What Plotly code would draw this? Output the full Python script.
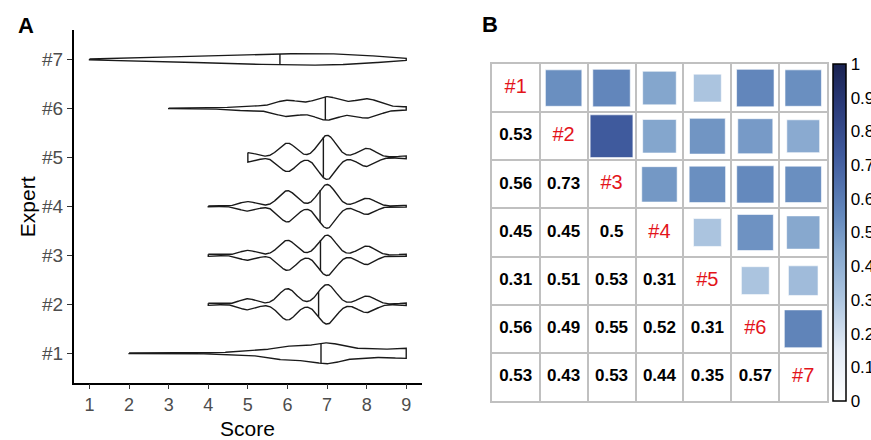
import numpy as np
import plotly.graph_objects as go

# ---------------- data ----------------
experts = ["#1", "#2", "#3", "#4", "#5", "#6", "#7"]
score_levels = [1, 2, 3, 4, 5, 6, 7, 8, 9]
# number of items given each score (1..9) by each expert
counts_e1 = [0, 2, 3, 4, 17, 58, 88, 35, 43]
counts_e2 = [0, 0, 0, 5, 27, 76, 96, 40, 6]
counts_e3 = [0, 0, 0, 5, 24, 73, 98, 45, 5]
counts_e4 = [0, 0, 0, 2, 23, 76, 106, 39, 4]
counts_e5 = [0, 0, 0, 0, 23, 69, 107, 44, 7]
counts_e6 = [0, 0, 2, 5, 18, 59, 85, 70, 11]
counts_e7 = [3, 12, 21, 31, 41, 49, 52, 36, 5]
counts_all = [counts_e1, counts_e2, counts_e3, counts_e4, counts_e5, counts_e6, counts_e7]

x_ticks = [1, 2, 3, 4, 5, 6, 7, 8, 9]

# lower-triangle correlations (row i, columns 1..i-1)
corr_r2 = [0.53]
corr_r3 = [0.56, 0.73]
corr_r4 = [0.45, 0.45, 0.50]
corr_r5 = [0.31, 0.51, 0.53, 0.31]
corr_r6 = [0.56, 0.49, 0.55, 0.52, 0.31]
corr_r7 = [0.53, 0.43, 0.53, 0.44, 0.35, 0.57]
corr_rows = [[], corr_r2, corr_r3, corr_r4, corr_r5, corr_r6, corr_r7]
cbar_ticks = [0, 0.1, 0.2, 0.3, 0.4, 0.5, 0.6, 0.7, 0.8, 0.9, 1]

# ---------------- layout geometry ----------------
W, H = 871, 440
FONT = "Arial, Liberation Sans, sans-serif"
ax_dom_x = [74 / W, 424 / W]
ax_dom_y = [(H - 382.7) / H, (H - 30) / H]
bx_dom_x = [494 / W, 831 / W]
bx_dom_y = [(H - 401) / H, (H - 64) / H]

fig = go.Figure()

# ---------------- panel A: violins ----------------
def nrd0(x):
    sd = np.std(x, ddof=1)
    q75, q25 = np.percentile(x, [75, 25])
    lo = min(sd, (q75 - q25) / 1.34)
    return 0.9 * lo * len(x) ** -0.2

dens_list = []
for cnt in counts_all:
    sample = np.repeat(score_levels, cnt).astype(float)
    bw = nrd0(sample)
    grid = np.linspace(sample.min(), sample.max(), 512)
    d = np.exp(-0.5 * ((grid[:, None] - sample[None, :]) / bw) ** 2).sum(1)
    d /= len(sample) * bw * np.sqrt(2 * np.pi)
    dens_list.append((grid, d))
gmax = max(d.max() for _, d in dens_list)

for k, (grid, d) in enumerate(dens_list):
    yc = k + 1
    hw = 0.45 * d / gmax
    xs = np.concatenate([grid, grid[::-1], grid[:1]])
    ys = np.concatenate([yc + hw, (yc - hw)[::-1], [yc + hw[0]]])
    fig.add_trace(go.Scatter(x=xs, y=ys, mode="lines", fill="toself",
                             fillcolor="white", line=dict(color="#1a1a1a", width=1.4),
                             hoverinfo="skip", showlegend=False, xaxis="x", yaxis="y"))
    cdf = np.cumsum(d) / d.sum()
    med = np.interp(0.5, cdf, grid)
    hm = np.interp(med, grid, hw)
    fig.add_trace(go.Scatter(x=[med, med], y=[yc - hm, yc + hm], mode="lines",
                             line=dict(color="#1a1a1a", width=1.4),
                             hoverinfo="skip", showlegend=False, xaxis="x", yaxis="y"))

# ---------------- panel B: correlation matrix ----------------
n = len(experts)
cell_px = (bx_dom_x[1] - bx_dom_x[0]) * W / n
sq_x, sq_y, sq_v = [], [], []
num_x, num_y, num_t = [], [], []
for i in range(n):
    for j, v in enumerate(corr_rows[i]):
        num_x.append(j + 1); num_y.append(i + 1); num_t.append("<b>%s</b>" % format(v, "g"))
        sq_x.append(i + 1); sq_y.append(j + 1); sq_v.append(v)

blues = [[0.0, "#FFFFFF"], [0.15, "#E3EBF5"], [0.31, "#ABC4DF"], [0.45, "#84A6CD"],
         [0.55, "#6489BD"], [0.73, "#3F5A9D"], [0.88, "#2A3A78"], [1.0, "#1A2351"]]

fig.add_trace(go.Scatter(
    x=sq_x, y=sq_y, mode="markers", xaxis="x2", yaxis="y2", showlegend=False,
    hoverinfo="skip",
    marker=dict(symbol="square", size=[1.04 * cell_px * np.sqrt(v) for v in sq_v],
                opacity=1, color=sq_v, cmin=0, cmax=1, colorscale=blues,
                line=dict(color="rgba(255,255,255,0.6)", width=1),
                colorbar=dict(x=837 / W, xanchor="left", xpad=0,
                              y=bx_dom_y[1], yanchor="top", ypad=0,
                              len=337, lenmode="pixels", thickness=13,
                              outlinecolor="black", outlinewidth=1.5,
                              tickvals=cbar_ticks, ticktext=[format(t, "g") for t in cbar_ticks],
                              ticks="", tickfont=dict(family=FONT, size=17, color="black"))),
))
fig.add_trace(go.Scatter(x=num_x, y=num_y, text=num_t, mode="text", xaxis="x2", yaxis="y2",
                         textfont=dict(family=FONT, size=17, color="black"),
                         showlegend=False, hoverinfo="skip"))
fig.add_trace(go.Scatter(x=list(range(1, n + 1)), y=list(range(1, n + 1)), text=experts,
                         mode="text", xaxis="x2", yaxis="y2",
                         textfont=dict(family=FONT, size=20, color="#E3141B"),
                         showlegend=False, hoverinfo="skip"))

# ---------------- layout ----------------
fig.update_layout(
    width=W, height=H, margin=dict(l=0, r=0, t=0, b=0),
    paper_bgcolor="white", plot_bgcolor="white",
    font=dict(family=FONT),
    xaxis=dict(domain=ax_dom_x, range=[0.6, 9.4], tickvals=x_ticks, showgrid=False,
               zeroline=False, showline=True, linecolor="black", linewidth=1.5,
               ticks="outside", ticklen=5, tickcolor="#333333", tickwidth=1.2,
               tickfont=dict(family=FONT, size=18, color="#4D4D4D"), anchor="y"),
    yaxis=dict(domain=ax_dom_y, range=[0.4, 7.6], tickvals=list(range(1, n + 1)),
               ticktext=experts, showgrid=False, zeroline=False, showline=True,
               linecolor="black", linewidth=1.5, ticks="outside", ticklen=5,
               tickcolor="#333333", tickwidth=1.2,
               tickfont=dict(family=FONT, size=19, color="#4D4D4D"), anchor="x"),
    xaxis2=dict(domain=bx_dom_x, range=[0.5, n + 0.5], tickvals=[k + 0.5 for k in range(1, n)],
                showticklabels=False, ticks="", showgrid=True, gridcolor="#C0C0C0", gridwidth=1.5,
                zeroline=False, showline=True, mirror=True, linecolor="#C0C0C0", linewidth=1.5,
                anchor="y2"),
    yaxis2=dict(domain=bx_dom_y, range=[n + 0.5, 0.5], tickvals=[k + 0.5 for k in range(1, n)],
                showticklabels=False, ticks="", showgrid=True, gridcolor="#C0C0C0", gridwidth=1.5,
                zeroline=False, showline=True, mirror=True, linecolor="#C0C0C0", linewidth=1.5,
                anchor="x2"),
    annotations=[
        dict(text="Score", x=(ax_dom_x[0] + ax_dom_x[1]) / 2, y=(H - 428) / H, xref="paper",
             yref="paper", xanchor="center", yanchor="middle", showarrow=False,
             font=dict(family=FONT, size=21, color="black")),
        dict(text="Expert", x=27 / W, y=(ax_dom_y[0] + ax_dom_y[1]) / 2, xref="paper",
             yref="paper", xanchor="center", yanchor="middle", showarrow=False, textangle=-90,
             font=dict(family=FONT, size=21, color="black")),
        dict(text="<b>A</b>", x=26 / W, y=(H - 26) / H, xref="paper", yref="paper",
             xanchor="center", yanchor="middle", showarrow=False,
             font=dict(family=FONT, size=22, color="black")),
        dict(text="<b>B</b>", x=492 / W, y=(H - 25) / H, xref="paper", yref="paper",
             xanchor="center", yanchor="middle", showarrow=False,
             font=dict(family=FONT, size=22, color="black")),
    ],
)

fig.write_html("out.html", config={"displayModeBar": False},
               post_script="document.body.style.margin='0';document.body.style.overflow='hidden';")
